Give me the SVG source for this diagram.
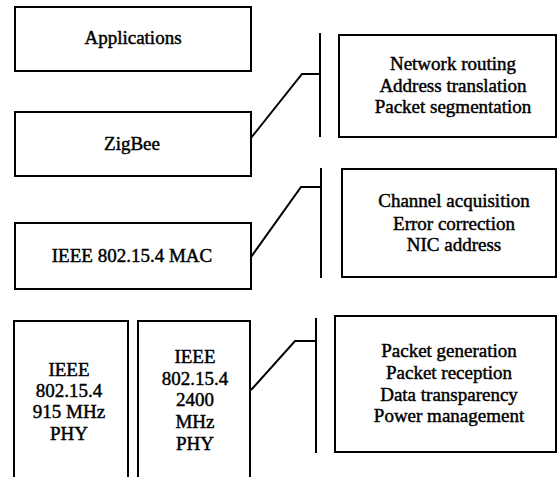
<svg xmlns="http://www.w3.org/2000/svg" width="558" height="477" viewBox="0 0 558 477">
<style>
  .box { fill: #fff; stroke: #000; stroke-width: 2; }
  .conn { fill: none; stroke: #000; stroke-width: 2; }
  .t { font-family: 'Liberation Serif', 'Times New Roman', serif; font-size: 19px; fill: #000; stroke: #000; stroke-width: 0.45px; text-anchor: middle; }
</style>
<rect width="558" height="477" fill="#fff"/>
<g id="applications">
  <rect class="box" x="15" y="7" width="236" height="64"/>
  <text class="t" x="133" y="44">Applications</text>
</g>
<g id="zigbee">
  <rect class="box" x="15" y="112" width="236" height="64"/>
  <text class="t" x="132" y="150">ZigBee</text>
</g>
<g id="mac">
  <rect class="box" x="15" y="223" width="236" height="66"/>
  <text class="t" x="132" y="262">IEEE 802.15.4 MAC</text>
</g>
<g id="phy915">
  <path class="conn" d="M14,480 V321 H128 V480"/>
  <text class="t" x="69" y="376">IEEE</text>
  <text class="t" x="69" y="397">802.15.4</text>
  <text class="t" x="69" y="418">915 MHz</text>
  <text class="t" x="69" y="440">PHY</text>
</g>
<g id="phy2400">
  <path class="conn" d="M138,480 V321 H250 V480"/>
  <text class="t" x="195" y="363">IEEE</text>
  <text class="t" x="195" y="385">802.15.4</text>
  <text class="t" x="195" y="406">2400</text>
  <text class="t" x="195" y="428">MHz</text>
  <text class="t" x="195" y="450">PHY</text>
</g>
<g id="nwk-functions">
  <rect class="box" x="339" y="35" width="217" height="102"/>
  <text class="t" x="453" y="70">Network routing</text>
  <text class="t" x="453" y="92">Address translation</text>
  <text class="t" x="453" y="113">Packet segmentation</text>
</g>
<g id="mac-functions">
  <rect class="box" x="342" y="169" width="214" height="108"/>
  <text class="t" x="454" y="207">Channel acquisition</text>
  <text class="t" x="454" y="230">Error correction</text>
  <text class="t" x="454" y="251">NIC address</text>
</g>
<g id="phy-functions">
  <rect class="box" x="335" y="316" width="221" height="136"/>
  <text class="t" x="449" y="357">Packet generation</text>
  <text class="t" x="449" y="379">Packet reception</text>
  <text class="t" x="449" y="401">Data transparency</text>
  <text class="t" x="449" y="422">Power management</text>
</g>
<g id="connectors">
  <path class="conn" d="M251,138 L302,74 H320"/>
  <line class="conn" x1="320" y1="33" x2="320" y2="137"/>
  <path class="conn" d="M251,257 L301,187 H321"/>
  <line class="conn" x1="321" y1="168" x2="321" y2="278"/>
  <path class="conn" d="M251,390 L295,341 H316"/>
  <line class="conn" x1="316" y1="318" x2="316" y2="453"/>
</g>
</svg>
